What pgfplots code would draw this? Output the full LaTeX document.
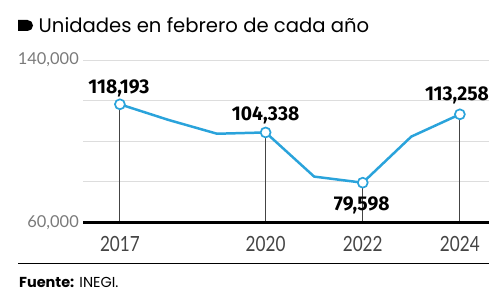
\documentclass[border=0pt]{standalone}
\usepackage{pgfplots}
\pgfplotsset{compat=1.18}
\usepackage{fontspec}
\setmainfont{Poppins}
\newfontfamily\yearfont[FakeStretch=0.82]{Lato}
\newfontfamily\labfont[FakeStretch=0.97]{Fira Sans}
\newfontfamily\tickfont{Lato}
\definecolor{lineblue}{HTML}{2AA3DB}
\definecolor{gridc}{HTML}{DDDDDD}
\definecolor{tickc}{HTML}{7A7A7A}
\definecolor{yearc}{HTML}{444444}
\begin{document}
\begin{tikzpicture}[x=1bp,y=1bp]
\path[use as bounding box] (0,0) rectangle (489,303);
% title
\fill[black] (18,283) -- (27.5,283) arc (90:-90:5.5) -- (18,272) -- cycle;
\node[anchor=base west, inner sep=0pt, font=\fontsize{19.7}{19.7}\selectfont] at (38.5,270) {Unidades en febrero de cada año};
\begin{axis}[
  at={(83bp,80.5bp)}, anchor=south west,
  scale only axis, width=406bp, height=162.5bp,
  xmin=2016.24, xmax=2024.6,
  ymin=60000, ymax=140000,
  axis line style={draw=none},
  scaled y ticks=false,
  ytick={60000,80000,100000,120000,140000},
  yticklabels={60{,}000,,,,140{,}000},
  xtick={2017,2020,2022,2024},
  xticklabels={2017,2020,2022,2024},
  ymajorgrids, grid style={gridc, line width=1pt},
  major tick length=0pt,
  yticklabel style={font=\tickfont\fontsize{16.5}{16.5}\selectfont, text=tickc, anchor=east, inner sep=0pt, xshift=-4bp},
  xticklabel style={font=\yearfont\fontsize{21}{21}\selectfont, text=yearc, anchor=base, inner sep=0pt, yshift=-29bp},
  /pgf/number format/assume math mode=true,
  clip=false,
]
\addplot[ycomb, draw=yearc, line width=1pt, mark=none] coordinates {(2017,118193) (2020,104338) (2022,79598) (2024,113258)};
\draw[black, line width=2.5pt] (axis cs:2016.24,60000) -- (axis cs:2024.6,60000);
\addplot[lineblue, line width=2.5pt, mark=none] coordinates {(2017,118193) (2018,110500) (2019,103700) (2020,104338) (2021,82600) (2022,79598) (2023,102300) (2024,113258)};
\addplot[only marks, mark=*, mark size=5pt, mark options={draw=lineblue, fill=white, line width=1.7pt}] coordinates {(2017,118193) (2020,104338) (2022,79598) (2024,113258)};
\begin{scope}[font=\labfont\bfseries\fontsize{20}{20}\selectfont, text=black]
\node[anchor=base, inner sep=0pt] at (axis cs:2016.98,123700) {118,193};
\node[anchor=base, inner sep=0pt] at (axis cs:2020,110400) {104,338};
\node[anchor=base, inner sep=0pt] at (axis cs:2021.98,65900) {79,598};
\node[anchor=base, inner sep=0pt] at (axis cs:2023.94,120300) {113,258};
\end{scope}
\end{axis}
\draw[black, line width=0.8pt] (18,40) -- (489,40);
\node[anchor=base west, inner sep=0pt, font=\fontsize{14.5}{14.5}\selectfont] at (19,16) {\textbf{Fuente:} INEGI.};
\end{tikzpicture}
\end{document}
